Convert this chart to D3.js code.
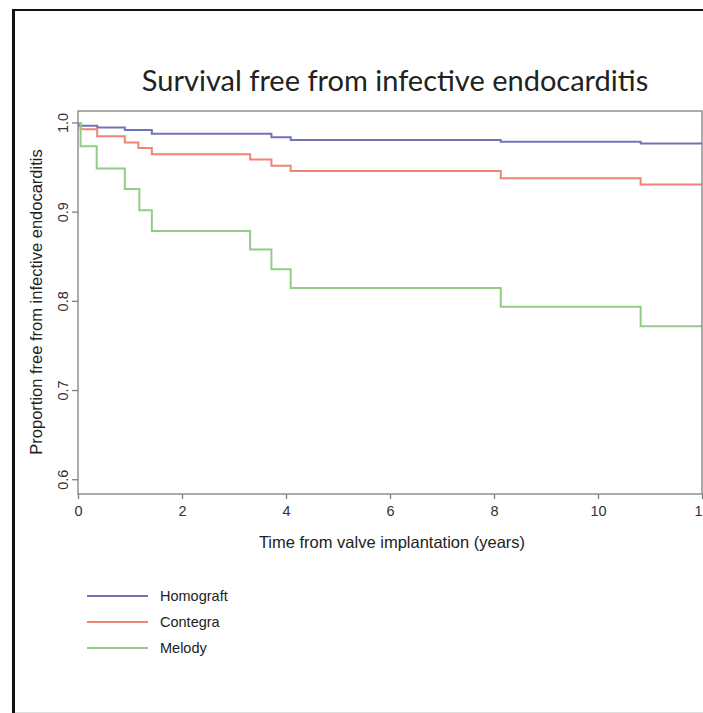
<!DOCTYPE html>
<html>
<head>
<meta charset="utf-8">
<script src="https://cdn.jsdelivr.net/npm/d3@7"></script>
<style>
  body { margin: 0; background: #fff; }
  svg { display: block; }
</style>
</head>
<body>
<div id="chart"></div>
<script>
// 各组的生存曲线 (阶梯)
const seriesNames = ['Homograft', 'Contegra', 'Melody'];
const homograftTime = [0, 0.02, 0.37, 0.9, 1.42, 3.72, 4.09, 8.13, 10.82, 12];
const homograftSurv = [1.0, 0.997, 0.995, 0.992, 0.988, 0.984, 0.981, 0.979, 0.977, 0.977];
const contegraTime = [0, 0.05, 0.37, 0.9, 1.16, 1.42, 3.31, 3.72, 4.09, 8.13, 10.82, 12];
const contegraSurv = [1.0, 0.993, 0.985, 0.978, 0.972, 0.965, 0.959, 0.952, 0.946, 0.938, 0.931, 0.931];
const melodyTime = [0, 0.05, 0.36, 0.9, 1.18, 1.42, 3.31, 3.72, 4.09, 8.13, 10.82, 12];
const melodySurv = [1.0, 0.974, 0.949, 0.926, 0.902, 0.879, 0.858, 0.836, 0.815, 0.794, 0.772, 0.772];
const xTicks = [0, 2, 4, 6, 8, 10, 12];
const yTicks = [0.6, 0.7, 0.8, 0.9, 1.0];

const colors = ['#7274bb', '#f08474', '#92cc86'];

const W = 703, H = 713;
const model = {left: 78, top: 111, right: 702, bottom: 494};

let svg = d3.select('#chart').append('svg')
    .attr('width', W).attr('height', H);

svg.append('rect').attr('width', W).attr('height', H).attr('fill', '#fff');

// 外框
svg.append('line').attr('x1', 13.5).attr('x2', 13.5).attr('y1', 9).attr('y2', H)
    .attr('stroke', '#111').attr('stroke-width', 3);
svg.append('line').attr('x1', 12).attr('x2', W).attr('y1', 10).attr('y2', 10)
    .attr('stroke', '#111').attr('stroke-width', 2);
svg.append('line').attr('x1', 15).attr('x2', W).attr('y1', 712.5).attr('y2', 712.5)
    .attr('stroke', '#ddd').attr('stroke-width', 1);

let xScale = d3.scaleLinear().domain([0, 12]).range([model.left, model.right]);
// R 默认 4% 扩展
let yScale = d3.scaleLinear().domain([0.584, 1.0134]).range([model.bottom, model.top]);

//标题
svg.append('text')
    .attr('x', 395).attr('y', 91)
    .attr('text-anchor', 'middle')
    .style('font-family', 'Lato, "Open Sans", sans-serif')
    .style('font-size', '29px')
    .attr('fill', '#222')
    .text('Survival free from infective endocarditis');

//曲线
let line = d3.line()
    .x(d => xScale(d[0]))
    .y(d => yScale(d[1]))
    .curve(d3.curveStepAfter);

let curves = [
    d3.zip(homograftTime, homograftSurv),
    d3.zip(contegraTime, contegraSurv),
    d3.zip(melodyTime, melodySurv)
];

let g = svg.append('g');
g.selectAll('path.curve')
    .data(curves)
    .enter()
    .append('path')
    .attr('class', 'curve')
    .attr('d', line)
    .attr('fill', 'none')
    .attr('stroke-width', 2)
    .attr('stroke', (d, i) => colors[i]);

// 坐标框
svg.append('rect')
    .attr('x', model.left).attr('y', model.top)
    .attr('width', model.right - model.left)
    .attr('height', model.bottom - model.top)
    .attr('fill', 'none').attr('stroke', '#808080').attr('stroke-width', 1.3);

const tickFont = 'Arial, "Liberation Sans", sans-serif';

//x轴
let xAxis = svg.append('g')
    .attr('transform', 'translate(0,' + model.bottom + ')')
    .call(d3.axisBottom(xScale).tickValues(xTicks).tickSize(5).tickPadding(7).tickFormat(d3.format('d')));
xAxis.select('.domain').remove();
xAxis.selectAll('line').attr('stroke', '#808080').attr('stroke-width', 1.3);
xAxis.selectAll('text').style('font-family', tickFont).style('font-size', '14.5px').attr('fill', '#333');

//y轴
let yAxis = svg.append('g')
    .attr('transform', 'translate(' + model.left + ',0)')
    .call(d3.axisLeft(yScale).tickValues(yTicks).tickSize(6).tickFormat(d3.format('.1f')));
yAxis.select('.domain').remove();
yAxis.selectAll('line').attr('stroke', '#808080').attr('stroke-width', 1.3);
yAxis.selectAll('text')
    .attr('x', 0).attr('dy', null)
    .attr('transform', d => 'translate(-10,' + yScale(d) + ') rotate(-90)')
    .attr('y', 0)
    .attr('text-anchor', 'middle')
    .style('font-family', tickFont).style('font-size', '14.5px').attr('fill', '#333');
yAxis.selectAll('.tick').attr('transform', null);
yAxis.selectAll('.tick line').attr('transform', d => 'translate(0,' + yScale(d) + ')');

//轴标题
svg.append('text')
    .attr('x', 392).attr('y', 548)
    .attr('text-anchor', 'middle')
    .style('font-family', tickFont).style('font-size', '16.5px').attr('fill', '#222')
    .text('Time from valve implantation (years)');

svg.append('text')
    .attr('transform', 'translate(42,' + 302 + ') rotate(-90)')
    .attr('text-anchor', 'middle')
    .style('font-family', tickFont).style('font-size', '16.5px').attr('fill', '#222')
    .text('Proportion free from infective endocarditis');

//图例
let legend = svg.append('g').selectAll('g')
    .data(seriesNames)
    .enter()
    .append('g')
    .attr('transform', (d, i) => 'translate(87,' + (596 + i * 26) + ')');
legend.append('line')
    .attr('x1', 0).attr('x2', 61)
    .attr('stroke', (d, i) => colors[i]).attr('stroke-width', 2);
legend.append('text')
    .attr('x', 73).attr('dy', '0.35em')
    .style('font-family', tickFont).style('font-size', '14.5px').attr('fill', '#222')
    .text(d => d);
</script>
</body>
</html>
